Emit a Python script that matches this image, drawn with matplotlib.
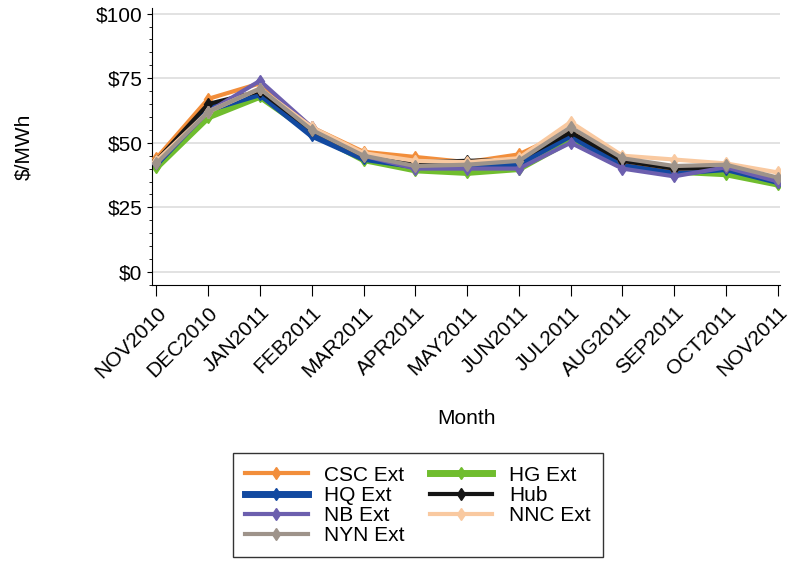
import numpy as np
import matplotlib.pyplot as plt
from matplotlib.ticker import MultipleLocator, FuncFormatter

plt.rcParams['font.family'] = ['Liberation Sans', 'DejaVu Sans']

months = ["NOV2010", "DEC2010", "JAN2011", "FEB2011", "MAR2011", "APR2011", "MAY2011",
          "JUN2011", "JUL2011", "AUG2011", "SEP2011", "OCT2011", "NOV2011"]

csc = [44, 67, 73, 56, 46.5, 44.5, 42.5, 45.5, 55, 43, 40, 40.5, 36]
hq = [42, 63, 69, 53, 44, 41, 41, 42, 53, 41, 38.5, 40, 35]
nb = [42, 62, 74, 56, 45, 40, 40, 40, 50, 40, 37, 40.5, 35]
nyn = [42, 62, 71, 55, 45, 41, 41.5, 43, 56, 44, 41, 41.5, 36.5]
hg = [40.5, 60, 68, 54, 43.5, 39.5, 38.5, 40, 51, 41, 39, 38, 34]
hub = [43, 65, 70, 55, 45, 42.5, 43, 43.5, 54, 43, 40, 40.5, 36]
nnc = [43, 62, 71, 56, 46, 43, 42.5, 44, 58, 45, 43.5, 42, 38.5]

series = [
    ("CSC Ext", csc, "#f28e3b", 3),
    ("HQ Ext", hq, "#1249a0", 5),
    ("NB Ext", nb, "#6c5fae", 3),
    ("NYN Ext", nyn, "#9e938a", 3),
    ("HG Ext", hg, "#70bd2e", 5),
    ("Hub", hub, "#151515", 3),
    ("NNC Ext", nnc, "#f9c9a0", 3),
]
draw_order = ["HG Ext", "HQ Ext", "CSC Ext", "Hub", "NB Ext", "NNC Ext", "NYN Ext"]

fig = plt.figure(figsize=(7.93, 5.64), dpi=100)
ax = fig.add_axes([0.192, 0.495, 0.792, 0.49])
x = np.arange(len(months))
handles = {}
for name, vals, col, lw in series:
    z = draw_order.index(name) + 2
    h, = ax.plot(x, vals, color=col, lw=lw, marker="d", ms=6, label=name, zorder=z)
    handles[name] = h

ax.set_xlim(-0.08, 12.05)
ax.set_ylim(-5, 102)
ax.yaxis.set_major_locator(MultipleLocator(25))
ax.yaxis.set_minor_locator(MultipleLocator(5))
ax.yaxis.set_major_formatter(FuncFormatter(lambda v, p: f"${v:.0f}"))
ax.grid(axis="y", color="#dddddd", lw=1.2, zorder=0)
ax.set_xticks(x)
ax.set_xticklabels(months, rotation=45, ha="right", rotation_mode="anchor", fontsize=15)
ax.tick_params(axis="y", labelsize=15)
ax.tick_params(axis="x", length=8, pad=5)
ax.set_ylabel("$/MWh", fontsize=15, labelpad=45)
ax.set_xlabel("Month", fontsize=15, labelpad=20)
for s in ["top", "right"]:
    ax.spines[s].set_visible(False)

order = ["CSC Ext", "HQ Ext", "NB Ext", "NYN Ext", "HG Ext", "Hub", "NNC Ext"]
leg = fig.legend([handles[n] for n in order], order, ncol=2, loc="center",
                 bbox_to_anchor=(0.527, 0.104), fontsize=15, frameon=True, fancybox=False,
                 edgecolor="black", handlelength=3, labelspacing=0.05, columnspacing=1.2,
                 borderpad=0.6, borderaxespad=0)
leg.get_frame().set_linewidth(1)
fig.savefig("out.png", dpi=100)
